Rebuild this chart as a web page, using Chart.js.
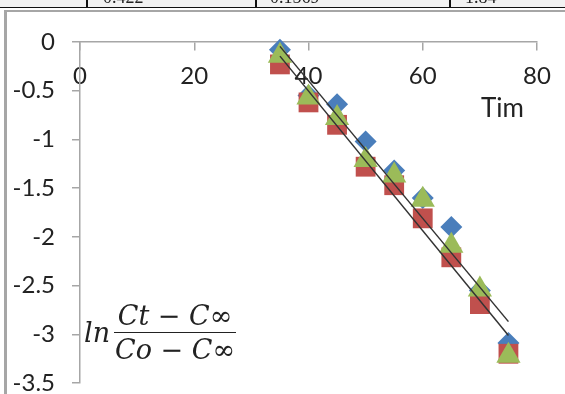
<!DOCTYPE html>
<html>
<head>
<meta charset="utf-8">
<script src="https://cdn.jsdelivr.net/npm/chart.js@4.4.0/dist/chart.umd.min.js"></script>
<style>
  html, body { margin: 0; padding: 0; background: #fff; }
  #page { position: relative; width: 565px; height: 394px; overflow: hidden; background: #fff; }
  #wrap { position: absolute; left: 0; top: 0; width: 565px; height: 420px; }
  .strip { position: absolute; left: 0; top: 0; width: 565px; height: 7px; background: #f2f2f2; border-bottom: 1.5px solid #111; }
  .vline { position: absolute; top: 0; width: 2px; height: 7px; background: #111; }
  .cell { position: absolute; top: -12px; font: 18px "Liberation Serif", serif; line-height: 18px; color: #222; }
  .frame { position: absolute; left: 4px; top: 9.5px; width: 570px; height: 400px; border-left: 3px solid #a6a6a6; border-top: 2px solid #a6a6a6; }
  .tim { position: absolute; left: 481px; top: 91px; font: 26px Lato, sans-serif; color: #222; }
  .formula { position: absolute; left: 84px; top: 301px; font: italic 27px "DejaVu Serif", "Liberation Serif", serif; color: #222; display: flex; align-items: center; }
  .formula .frac { display: inline-flex; flex-direction: column; align-items: center; margin-left: 4px; }
  .formula .num { padding: 0 1px 2px; line-height: 29px; }
  .formula .den { border-top: 1.5px solid #222; padding: 2px 1px 0; line-height: 29px; }
</style>
</head>
<body>
<div id="page">
  <div id="wrap"><canvas id="myChart" width="565" height="420"></canvas></div>
  <div class="strip"></div>
  <div class="vline" style="left:86px"></div>
  <div class="vline" style="left:255px"></div>
  <div class="vline" style="left:449px"></div>
  <div class="cell" style="left:103px">0.422</div>
  <div class="cell" style="left:270px">0.1569</div>
  <div class="cell" style="left:465px">1.84</div>
  <div class="frame"></div>
  <div class="tim">Tim</div>
  <div class="formula"><span>ln</span><span class="frac"><span class="num">Ct − C∞</span><span class="den">Co − C∞</span></span></div>
</div>
<script>
const times = [35, 40, 45, 50, 55, 60, 65, 70, 75];
const seriesBlue = [-0.08, -0.55, -0.64, -1.02, -1.32, -1.6, -1.9, -2.55, -3.09];
const seriesRed = [-0.23, -0.62, -0.85, -1.28, -1.47, -1.81, -2.21, -2.69, -3.2];
const seriesGreen = [-0.14, -0.57, -0.78, -1.21, -1.37, -1.62, -2.09, -2.54, -3.22];
// two linear trend lines (end points)
const trendX = [35, 75];
const trendUpper = [-0.045, -2.87];
const trendLower = [-0.145, -3.013];

const toPoints = (xs, ys) => xs.map((x, i) => ({ x: x, y: ys[i] }));

var ctx = document.getElementById('myChart').getContext('2d');
var myChart = new Chart(ctx, {
  type: 'scatter',
  data: {
    datasets: [
      {
        label: 'upper trend',
        type: 'line',
        data: toPoints(trendX, trendUpper),
        borderColor: '#333',
        borderWidth: 1.5,
        pointRadius: 0,
        fill: false,
        clip: false,
        order: 0
      },
      {
        label: 'lower trend',
        type: 'line',
        data: toPoints(trendX, trendLower),
        borderColor: '#333',
        borderWidth: 1.5,
        pointRadius: 0,
        fill: false,
        clip: false,
        order: 0
      },
      {
        label: 'blue',
        data: toPoints(times, seriesBlue),
        pointStyle: 'rectRot',
        pointRadius: 11,
        backgroundColor: '#4a7ebb',
        borderWidth: 0,
        clip: false,
        order: 3
      },
      {
        label: 'red',
        data: toPoints(times, seriesRed),
        pointStyle: 'rect',
        pointRadius: 14,
        backgroundColor: '#c0504d',
        borderWidth: 0,
        clip: false,
        order: 2
      },
      {
        label: 'green',
        data: toPoints(times, seriesGreen),
        pointStyle: 'triangle',
        pointRadius: 14,
        backgroundColor: '#9bbb59',
        borderWidth: 0,
        clip: false,
        order: 1
      }
    ]
  },
  options: {
    responsive: false,
    animation: false,
    layout: { padding: { top: 42, left: 0, right: 28, bottom: 37 } },
    plugins: { legend: { display: false }, tooltip: { enabled: false } },
    scales: {
      x: {
        type: 'linear',
        min: 0,
        max: 80,
        position: { y: 0 },
        ticks: { stepSize: 20, padding: 12, color: '#222', font: { family: 'Lato', size: 24 } },
        grid: { drawOnChartArea: false, drawTicks: true, tickLength: 8, color: '#a6a6a6', lineWidth: 1.5 },
        border: { color: '#a6a6a6', width: 1.5 }
      },
      y: {
        type: 'linear',
        min: -3.5,
        max: 0,
        afterFit: (scale) => { scale.width = 80; },
        ticks: {
          stepSize: 0.5, padding: 17, color: '#222', font: { family: 'Lato', size: 24 },
          callback: (v) => String(Number(v.toFixed(1)))
        },
        grid: { drawOnChartArea: false, drawTicks: true, tickLength: 8, color: '#a6a6a6', lineWidth: 1.5 },
        border: { color: '#a6a6a6', width: 1.5 }
      }
    }
  }
});
</script>
</body>
</html>
